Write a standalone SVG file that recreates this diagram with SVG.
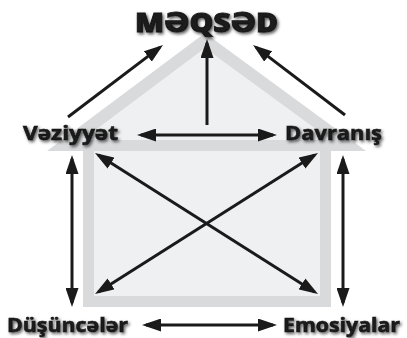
<svg xmlns="http://www.w3.org/2000/svg" width="407" height="338" viewBox="0 0 407 338">
<style>
.band{fill:#d9dadb}
.fill{fill:#eff0f2}
.lbl{font-family:"Open Sans","DejaVu Sans",sans-serif;font-weight:700;font-size:19.5px;fill:#1a1a1a;stroke:#1a1a1a;stroke-width:0.6;filter:url(#sh)}
.title{font-family:"Open Sans","DejaVu Sans",sans-serif;font-weight:800;font-size:27px;fill:#1a1a1a;stroke:#1a1a1a;stroke-width:0.9;filter:url(#sh)}
.arr{stroke:#1a1a1a;stroke-width:3;fill:none;marker-end:url(#ah)}
.dbl{marker-start:url(#ah)}
</style>
<defs>
<filter id="sh" x="-20%" y="-40%" width="140%" height="180%">
<feDropShadow dx="1.5" dy="1.8" stdDeviation="1.4" flood-color="#000" flood-opacity="0.65"/>
</filter>
<marker id="ah" markerUnits="userSpaceOnUse" markerWidth="19" markerHeight="13" refX="15" refY="6.5" orient="auto-start-reverse">
<path d="M0,0 L19,6.5 L0,13 z" fill="#1a1a1a"/>
</marker>
</defs>
<rect width="407" height="338" fill="#fff"/>
<g id="house">
<polygon class="band" points="47,151 205,33 366,151"/>
<polygon class="fill" points="82,140 205,48 331,140"/>
<rect class="band" x="83" y="151" width="248" height="156"/>
<rect class="fill" x="94" y="151" width="226" height="145"/>
</g>
<g id="connectors">
<line class="arr" x1="68" y1="117" x2="159.8" y2="47.4"/>
<line class="arr" x1="207" y1="125" x2="207" y2="43"/>
<line class="arr" x1="345" y1="115" x2="256.2" y2="47.4"/>
<line class="arr dbl" x1="141" y1="135" x2="273" y2="135"/>
<line class="arr dbl" x1="72" y1="159" x2="72" y2="303"/>
<line class="arr dbl" x1="343" y1="159" x2="343" y2="303"/>
<line class="arr dbl" x1="98.4" y1="155.1" x2="314.6" y2="291.9"/>
<line class="arr dbl" x1="314.6" y1="155.1" x2="98.4" y2="291.9"/>
<line class="arr dbl" x1="146" y1="325" x2="273" y2="325"/>
</g>
<g id="meqsed"><text class="title" x="135" y="31.5" textLength="143" lengthAdjust="spacingAndGlyphs">MƏQSƏD</text></g>
<g id="veziyyet"><text class="lbl" x="23" y="140" textLength="95" lengthAdjust="spacingAndGlyphs">Vəziyyət</text></g>
<g id="davranis"><text class="lbl" x="285" y="140" textLength="97" lengthAdjust="spacingAndGlyphs">Davranış</text></g>
<g id="dusunceler"><text class="lbl" x="7" y="332" textLength="121" lengthAdjust="spacingAndGlyphs">Düşüncələr</text></g>
<g id="emosiyalar"><text class="lbl" x="283" y="332" textLength="117" lengthAdjust="spacingAndGlyphs">Emosiyalar</text></g>
</svg>
